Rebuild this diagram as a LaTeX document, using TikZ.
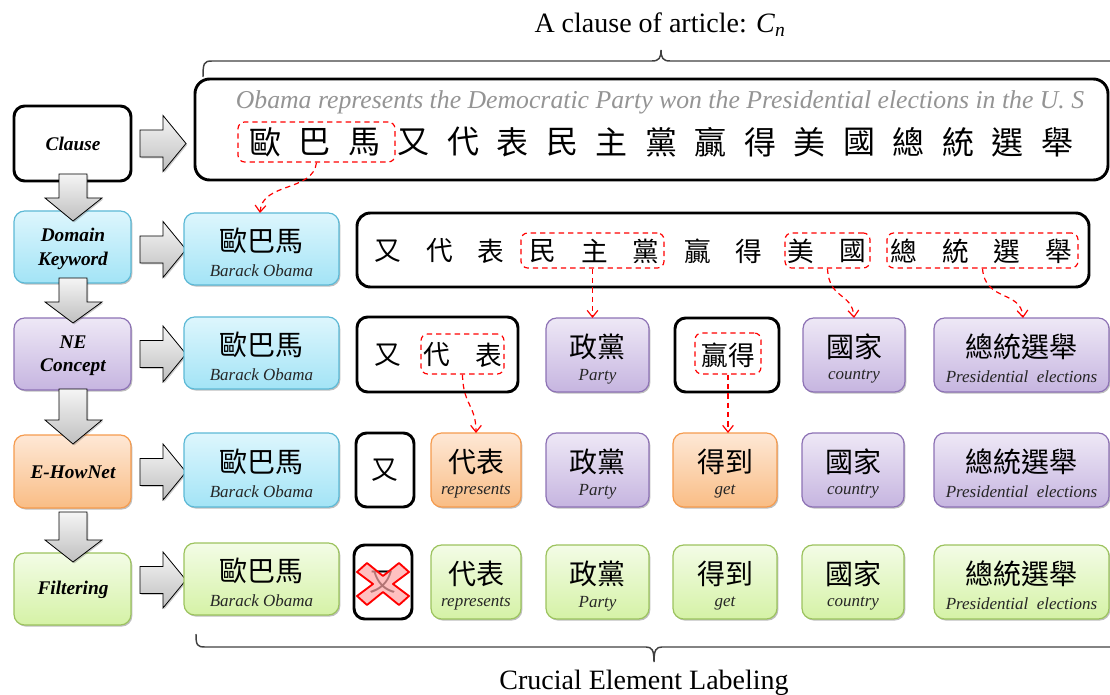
\documentclass[tikz,border=0pt]{standalone}
\usepackage{fontspec}
\setmainfont{Liberation Serif}
\newfontfamily\zh{Noto Sans CJK TC}
\usetikzlibrary{calc,fit,shadows,arrows.meta}
\definecolor{cyT}{HTML}{DDF6FD}
\definecolor{cyB}{HTML}{A3E4F6}
\definecolor{cyE}{HTML}{5CB9D6}
\definecolor{puT}{HTML}{EEE8F6}
\definecolor{puB}{HTML}{C6B5E0}
\definecolor{puE}{HTML}{8D72B5}
\definecolor{orT}{HTML}{FEE8D6}
\definecolor{orB}{HTML}{F9BD85}
\definecolor{orE}{HTML}{F59B4E}
\definecolor{grT}{HTML}{F3FCE6}
\definecolor{grB}{HTML}{D5F2A6}
\definecolor{grE}{HTML}{9CC35E}
\definecolor{txtgray}{HTML}{949494}
\tikzset{
  base/.style={rounded corners=8pt, inner sep=0pt, outer sep=0pt},
  shad/.style={drop shadow={shadow xshift=1pt, shadow yshift=-1.2pt, opacity=0.25, fill=black}},
  thickbox/.style={base, draw=black, line width=2.2pt, fill=white},
  cyanbox/.style={base, shad, draw=cyE, line width=0.9pt, top color=cyT, bottom color=cyB},
  purplebox/.style={base, shad, draw=puE, line width=0.9pt, top color=puT, bottom color=puB},
  orangebox/.style={base, shad, draw=orE, line width=0.9pt, top color=orT, bottom color=orB},
  greenbox/.style={base, shad, draw=grE, line width=0.9pt, top color=grT, bottom color=grB},
  lbl/.style={font=\fontsize{14.5}{17.5}\selectfont\bfseries\itshape, align=center, inner sep=0pt},
  zhbox/.style={font=\zh\fontsize{21}{22}\selectfont, inner sep=0pt},
  rowzh/.style={font=\zh\fontsize{20}{22}\selectfont, inner sep=0pt},
  bigzh/.style={font=\zh\fontsize{24}{26}\selectfont, inner sep=0pt},
  enbox/.style={font=\fontsize{12.75}{14}\selectfont\itshape, text=black!85, inner sep=0pt},
  reddash/.style={draw=red, dash pattern=on 4pt off 3pt, line width=0.9pt, rounded corners=5pt, inner sep=0pt},
  redarrow/.style={draw=red, dash pattern=on 4pt off 3pt, line width=0.9pt, -{Straight Barb[length=5pt,width=8pt]}},
  grayarrow/.style={draw=black, line width=0.6pt, top color=gray!8, bottom color=gray!50,
     drop shadow={shadow xshift=1pt, shadow yshift=-1pt, opacity=0.2, fill=black}},
  bracec/.style={draw=black!75, line width=1.1pt},
  xmark/.style={draw=red, line width=1.4pt, fill=red!35, fill opacity=0.7, line join=round}
}
\newcommand\rb[8]{%
  \node[#2, fit={(#3,#4) (#5,#6)}] (#1) {};
  \node[zhbox] (#1z) at ($(#1.center)+(0,-8)$) {#7};
  \node[enbox] (#1e) at ($(#1.center)+(0,22)$) {#8};}
\begin{document}
\begin{tikzpicture}[x=0.75pt,y=-0.75pt]
\useasboundingbox (0,0) rectangle (1110,695);

% title and top brace
\node[font=\fontsize{21}{24}\selectfont] (title) at (660,25) {A clause of article: \textit{C}\textsubscript{\textit{n}}};
\draw[bracec] (203,77) .. controls (203,63) and (204,61) .. (212,61) -- (652,61)
  .. controls (659,61) and (661,58) .. (661,50) .. controls (661,58) and (663,61) .. (670,61) -- (1125,61);

% clause box
\node[thickbox, rounded corners=11pt, fit={(195,79) (1108,180)}] (clausebox) {};
\node[font=\fontsize{19.3}{22}\selectfont\itshape, text=txtgray] (engl) at (660,102)
  {Obama represents the Democratic Party won the Presidential elections in the U. S};
\foreach \c [count=\i from 0] in {歐,巴,馬,又,代,表,民,主,黨,贏,得,美,國,總,統,選,舉}
  \node[bigzh] (s\i) at (265+49.5*\i,142) {\c};
\node[reddash, fit={(238,122) (395,162)}] (rd0) {};

% left column
\node[thickbox, fit={(14,106) (131,181)}] (L1) {};
\node[cyanbox, fit={(14,211) (131,283)}] (L2) {};
\node[purplebox, fit={(14,318) (131,390)}] (L3) {};
\node[orangebox, fit={(14,435) (131,508)}] (L4) {};
\node[greenbox, fit={(14,553) (131,625)}] (L5) {};
\node[lbl] (L1t) at (73,144) {Clause};
\node[lbl] (L2t) at (73,249) {Domain\\Keyword};
\node[lbl] (L3t) at (73,356) {NE\\Concept};
\node[lbl] (L4t) at (73,472) {E-HowNet};
\node[lbl] (L5t) at (73,590) {Filtering};

% down arrows
\foreach \t/\h/\e in {174/198/221, 278/302/323, 389/420/444, 512/540/562}
  \draw[grayarrow] (59,\t) -- (87,\t) -- (87,\h) -- (102,\h) -- (73,\e) -- (45,\h) -- (59,\h) -- cycle;
% right arrows
\foreach \y in {143.5, 249.5, 354, 472, 580}
  \draw[grayarrow] (140,\y-13.5) -- (163,\y-13.5) -- (163,\y-28) -- (186,\y) -- (163,\y+28) -- (163,\y+13.5) -- (140,\y+13.5) -- cycle;

% row 2: domain keyword
\rb{k1}{cyanbox}{184}{213}{339}{285}{歐巴馬}{Barack Obama}
\node[thickbox, rounded corners=10pt, fit={(357,213) (1089,287)}] (kb) {};
\foreach \c [count=\i from 0] in {又,代,表,民,主,黨,贏,得,美,國,總,統,選,舉}
  \node[rowzh] (r\i) at (388+51.6*\i,251) {\c};
\node[reddash, fit={(521,233) (664,268)}] (rd1) {};
\node[reddash, fit={(785,233) (870,268)}] (rd2) {};
\node[reddash, fit={(887,233) (1078,268)}] (rd3) {};

% row 3: NE concept
\rb{n1}{cyanbox}{184}{317}{339}{389}{歐巴馬}{Barack Obama}
\node[thickbox, fit={(357,317) (518,392)}] (n2) {};
\node[rowzh] (n2a) at (388,355) {又};
\node[rowzh] (n2b) at (437,355) {代};
\node[rowzh] (n2c) at (489,355) {表};
\node[reddash, fit={(421,334) (504,374)}] (rd4) {};
\rb{n3}{purplebox}{546}{318}{649}{392}{政黨}{Party}
\node[thickbox, fit={(675,318) (779,392)}] (n4) {};
\node[rowzh] (n4a) at (728,355) {贏得};
\node[reddash, fit={(695,333) (761,374)}] (rd5) {};
\rb{n5}{purplebox}{803}{318}{905}{392}{國家}{country}
\rb{n6}{purplebox}{934}{318}{1109}{392}{總統選舉}{Presidential\enspace elections}

% row 4: E-HowNet
\rb{e1}{cyanbox}{184}{433}{339}{507}{歐巴馬}{Barack Obama}
\node[thickbox, fit={(356,433) (414,507)}] (e2) {};
\node[rowzh] (e2a) at (385,470) {又};
\rb{e3}{orangebox}{431}{433}{521}{507}{代表}{represents}
\rb{e4}{purplebox}{546}{433}{649}{507}{政黨}{Party}
\rb{e5}{orangebox}{673}{433}{777}{507}{得到}{get}
\rb{e6}{purplebox}{802}{433}{904}{507}{國家}{country}
\rb{e7}{purplebox}{934}{433}{1109}{507}{總統選舉}{Presidential\enspace elections}

% row 5: filtering
\rb{f1}{greenbox}{184}{543}{339}{615}{歐巴馬}{Barack Obama}
\node[thickbox, fit={(354,545) (412,619)}] (f2) {};
\node[rowzh] (f2a) at (383,582) {又};
\draw[xmark, shift={(383,584)}] (-26,-12) -- (-16,-21) -- (0,-8) -- (16,-21) -- (26,-12) -- (10,0)
  -- (26,12) -- (16,21) -- (0,8) -- (-16,21) -- (-26,12) -- (-10,0) -- cycle;
\rb{f3}{greenbox}{431}{545}{521}{619}{代表}{represents}
\rb{f4}{greenbox}{546}{545}{649}{619}{政黨}{Party}
\rb{f5}{greenbox}{673}{545}{777}{619}{得到}{get}
\rb{f6}{greenbox}{802}{545}{904}{619}{國家}{country}
\rb{f7}{greenbox}{934}{545}{1109}{619}{總統選舉}{Presidential\enspace elections}

% red dashed connectors
\coordinate (t1) at (260,213);
\coordinate (t3) at (854,318);
\coordinate (t4) at (1023,318);
\coordinate (t5) at (476,433);
\draw[redarrow] (rd0.south) .. controls (313,192) and (262,182) .. (t1);
\draw[redarrow] (rd1.south) -- (rd1.south |- n3.north);
\draw[redarrow] (rd2.south) .. controls (829,300) and (852,292) .. (t3);
\draw[redarrow] (rd3.south) .. controls (985,302) and (1021,290) .. (t4);
\draw[redarrow] (rd4.south) .. controls (463,405) and (476,405) .. (t5);
\draw[redarrow] (rd5.south) -- (rd5.south |- e5.north);

% bottom brace and label
\draw[bracec] (196,634) .. controls (196,645) and (197,647) .. (205,647) -- (646,647)
  .. controls (652,647) and (654,650) .. (654,662) .. controls (654,650) and (656,647) .. (662,647) -- (1125,647);
\node[font=\fontsize{21}{24}\selectfont] (bottomlabel) at (644,683) {Crucial Element Labeling};
\end{tikzpicture}
\end{document}
